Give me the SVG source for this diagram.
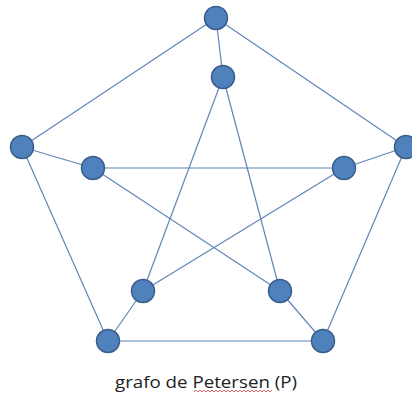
<svg xmlns="http://www.w3.org/2000/svg" width="412" height="396" viewBox="0 0 412 396">
<style>
.e{stroke:#5f86b9;stroke-width:1.2;fill:none}
.n{fill:#4f81bd;stroke:#385d8a;stroke-width:1.5}
.t{font-family:"Open Sans","Liberation Sans",sans-serif;font-size:16px;fill:#222}
</style>
<rect width="412" height="396" fill="#fff"/>
<g id="edges">
<line class="e" x1="216" y1="18" x2="22" y2="147"/>
<line class="e" x1="216" y1="18" x2="406" y2="147"/>
<line class="e" x1="22" y1="147" x2="108" y2="341"/>
<line class="e" x1="406" y1="147" x2="323" y2="341"/>
<line class="e" x1="108" y1="341" x2="323" y2="341"/>
<line class="e" x1="216" y1="18" x2="223" y2="77"/>
<line class="e" x1="22" y1="147" x2="93" y2="168"/>
<line class="e" x1="406" y1="147" x2="344" y2="168"/>
<line class="e" x1="108" y1="341" x2="143" y2="291"/>
<line class="e" x1="323" y1="341" x2="280" y2="291"/>
<line class="e" x1="223" y1="77" x2="143" y2="291"/>
<line class="e" x1="223" y1="77" x2="280" y2="291"/>
<line class="e" x1="93" y1="168" x2="344" y2="168"/>
<line class="e" x1="93" y1="168" x2="280" y2="291"/>
<line class="e" x1="344" y1="168" x2="143" y2="291"/>
</g>
<g id="o1"><circle class="n" cx="216" cy="18" r="11.5"/></g>
<g id="o2"><circle class="n" cx="22" cy="147" r="11.5"/></g>
<g id="o3"><circle class="n" cx="406" cy="147" r="11.5"/></g>
<g id="o4"><circle class="n" cx="108" cy="341" r="11.5"/></g>
<g id="o5"><circle class="n" cx="323" cy="341" r="11.5"/></g>
<g id="i1"><circle class="n" cx="223" cy="77" r="11.5"/></g>
<g id="i2"><circle class="n" cx="93" cy="168" r="11.5"/></g>
<g id="i3"><circle class="n" cx="344" cy="168" r="11.5"/></g>
<g id="i4"><circle class="n" cx="143" cy="291" r="11.5"/></g>
<g id="i5"><circle class="n" cx="280" cy="291" r="11.5"/></g>
<g id="caption">
<text class="t" x="115" y="388" textLength="182" lengthAdjust="spacingAndGlyphs">grafo de Petersen (P)</text>
<path d="M194 392 l2 -2 l2 2 l2 -2 l2 2 l2 -2 l2 2 l2 -2 l2 2 l2 -2 l2 2 l2 -2 l2 2 l2 -2 l2 2 l2 -2 l2 2 l2 -2 l2 2 l2 -2 l2 2 l2 -2 l2 2 l2 -2 l2 2 l2 -2 l2 2 l2 -2 l2 2 l2 -2 l2 2 l2 -2 l2 2 l2 -2 l2 2 l2 -2 l2 2 l2 -2 l2 2 l2 -2" fill="none" stroke="#d04040" stroke-width="0.8"/>
</g>
</svg>
